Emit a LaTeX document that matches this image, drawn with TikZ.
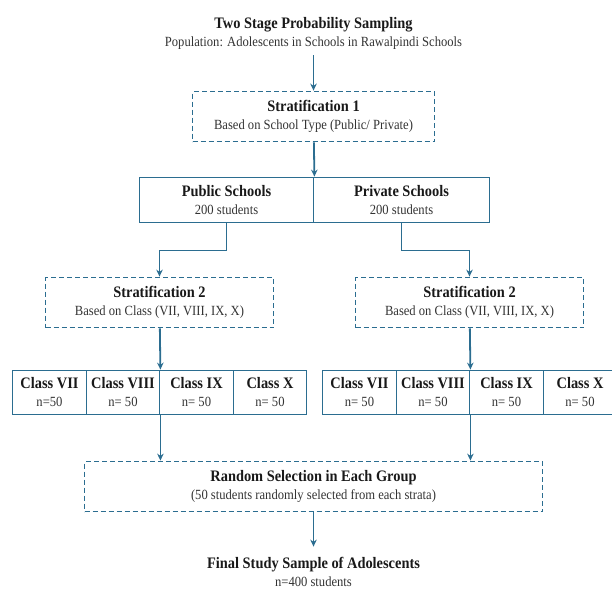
\documentclass[tikz,border=0pt]{standalone}
\usepackage{fontspec}
\setmainfont{Liberation Serif}[FakeStretch=0.9]
\usetikzlibrary{arrows.meta,positioning}

\definecolor{flowblue}{HTML}{2B6D90}
\definecolor{txtgray}{HTML}{333333}
\newcommand{\hd}[1]{{\fontsize{16}{18}\selectfont\bfseries\color{black!90}#1}}

\begin{document}
\begin{tikzpicture}[
    x=1pt,
    y=-1pt,
    font=\fontsize{14}{18}\selectfont,
    txt/.style={align=center, text=txtgray, inner sep=1pt},
    dbox/.style={txt, draw=flowblue, line width=1.8pt, dash pattern=on 5pt off 3pt, minimum width=#1, minimum height=50pt},
    sbox/.style={txt, draw=flowblue, line width=1.8pt, minimum width=#1},
    cls/.style={sbox=#1, minimum height=44pt},
    arr/.style={draw=flowblue, line width=1.8pt, -{Stealth[length=7pt,width=6.5pt]}}
]
\useasboundingbox (0,0) rectangle (612,590);

% stage 1
\node[txt] (top) at (313.5,33) {\hd{Two Stage Probability Sampling}\\Population: Adolescents in Schools in Rawalpindi Schools};
\node[dbox=242pt] (s1) at (313.5,116.5) {\hd{Stratification 1}\\Based on School Type (Public/ Private)};
\node[sbox=174pt, minimum height=45pt] (pub) at (226.5,200) {\hd{Public Schools}\\200 students};
\node[sbox=176pt, minimum height=45pt] (priv) at (401.5,200) {\hd{Private Schools}\\200 students};

% stage 2
\node[dbox=228pt] (s2a) at (159.5,302.5) {\hd{Stratification 2}\\Based on Class (VII, VIII, IX, X)};
\node[dbox=228pt] (s2b) at (469.5,302.5) {\hd{Stratification 2}\\Based on Class (VII, VIII, IX, X)};

\node[cls=74pt] (c1) at (49.5,392.5) {\hd{Class VII}\\n=50};
\node[cls=73pt] (c2) at (123,392.5) {\hd{Class VIII}\\n= 50};
\node[cls=74pt] (c3) at (196.5,392.5) {\hd{Class IX}\\n= 50};
\node[cls=73pt] (c4) at (270,392.5) {\hd{Class X}\\n= 50};
\node[cls=74pt] (c5) at (359.5,392.5) {\hd{Class VII}\\n= 50};
\node[cls=73pt] (c6) at (433,392.5) {\hd{Class VIII}\\n= 50};
\node[cls=74pt] (c7) at (506.5,392.5) {\hd{Class IX}\\n= 50};
\node[cls=73pt] (c8) at (580,392.5) {\hd{Class X}\\n= 50};

% selection
\node[dbox=458pt] (rnd) at (313.5,486.5) {\hd{Random Selection in Each Group}\\(50 students randomly selected from each strata)};
\node[txt] (fin) at (313.5,571.5) {\hd{Final Study Sample of Adolescents}\\n=400 students};

\draw[arr, shorten <=5pt] (top) -- (s1);
\draw[arr] (s1) -- (pub.north east);
\draw[arr] (pub.south) -- ++(0,27) -| (s2a.north);
\draw[arr] (priv.south) -- ++(0,27) -| (s2b.north);
\draw[arr] (s2a) -- (c2.north east);
\draw[arr] (s2b) -- (c6.north east);
\draw[arr] (c2.south east) -- (c2.south east |- rnd.north);
\draw[arr] (c6.south east) -- (c6.south east |- rnd.north);
\draw[arr, shorten >=9pt] (rnd) -- (fin);
\end{tikzpicture}
\end{document}
